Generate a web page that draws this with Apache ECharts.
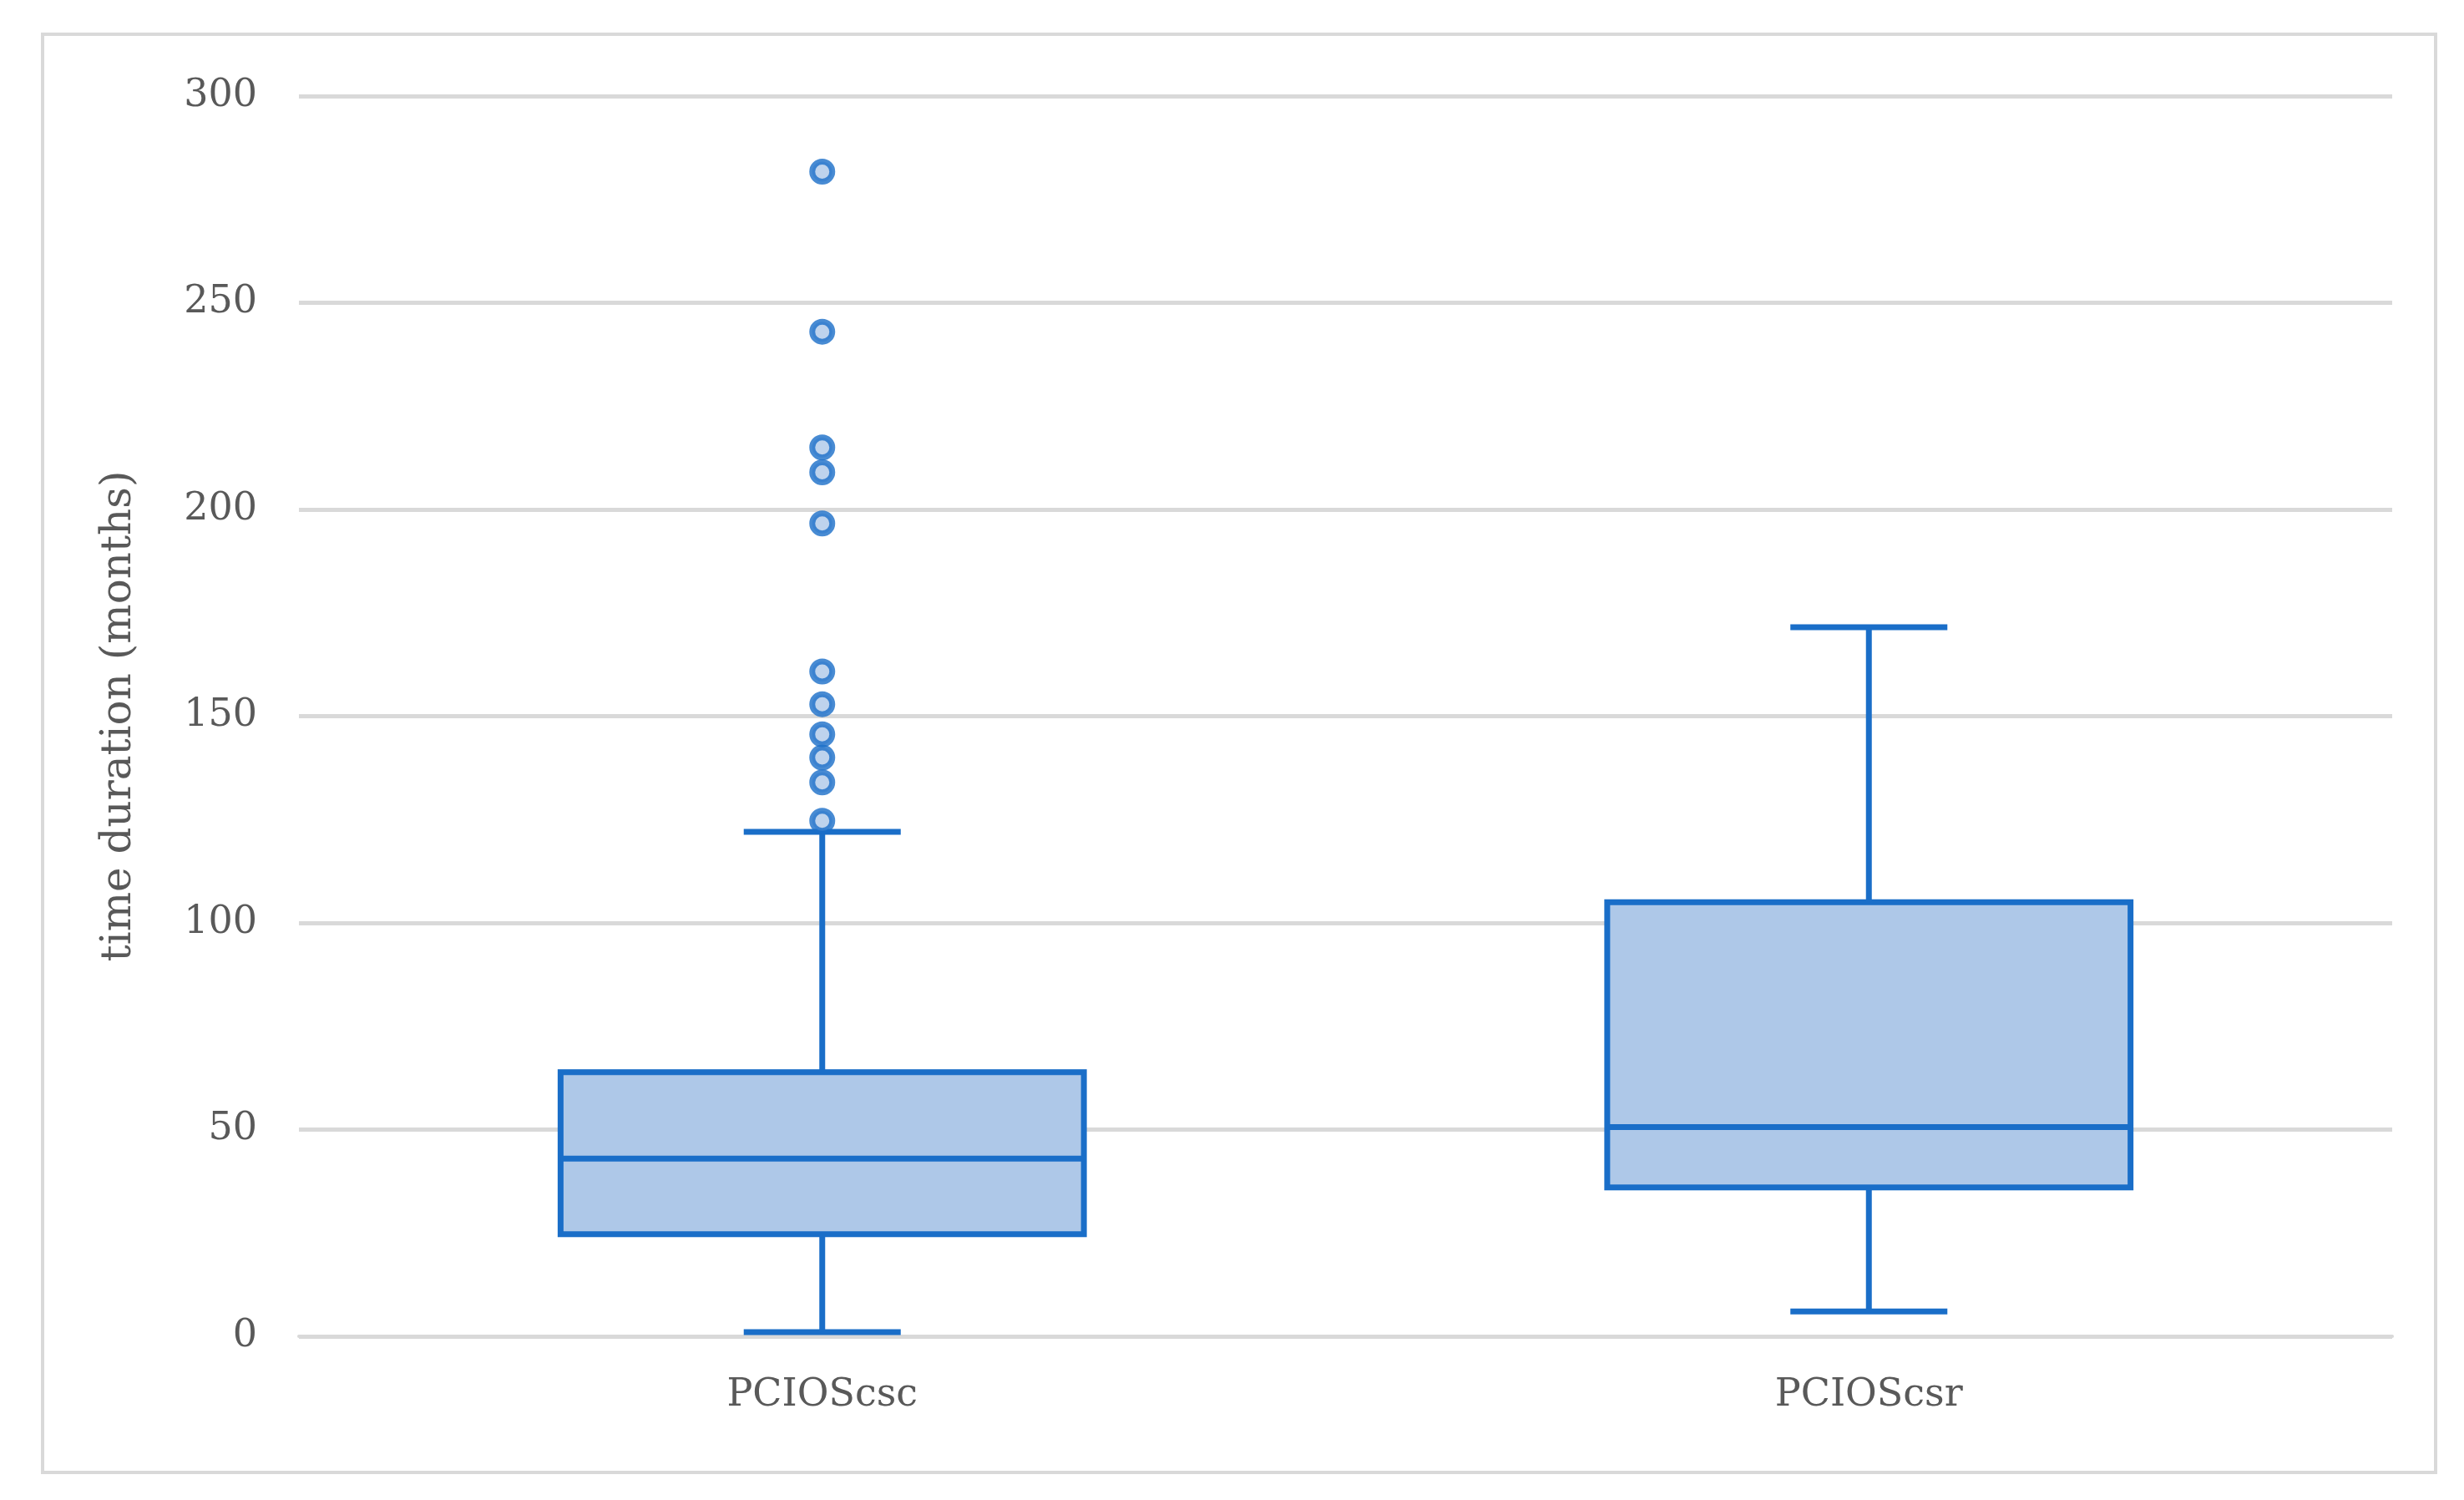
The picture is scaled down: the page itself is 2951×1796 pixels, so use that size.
<!DOCTYPE html>
<html><head><meta charset="utf-8">
<script src="https://cdn.jsdelivr.net/npm/echarts@6/dist/echarts.min.js"></script>
<style>html,body{margin:0;padding:0;background:#fff}#c{width:2951px;height:1796px}</style>
</head><body><div id="c"></div>
<script>
const categories = ['PCIOScsc', 'PCIOScsr'];
// [min, Q1, median, Q3, max]
const boxValues = [
  [1, 24.7, 43, 63.9, 122],
  [6, 36, 50.6, 105, 171.5]
];
const outlierValues = [
  [0, 281.7], [0, 243], [0, 215], [0, 209], [0, 196.6], [0, 160.8],
  [0, 152.9], [0, 145.6], [0, 140], [0, 134], [0, 124.7]
];
const yTicks = [0, 50, 100, 150, 200, 250, 300];

const blue = '#1a6ec8', fill = '#aec8e8';
const chart = echarts.init(document.getElementById('c'));
chart.setOption({
  backgroundColor: '#fff',
  graphic: [{type: 'rect', shape: {x: 51, y: 41, width: 2866, height: 1722},
    style: {fill: 'none', stroke: '#d9d9d9', lineWidth: 4}}],
  grid: {left: 358, right: 86, top: 115, bottom: 196},
  xAxis: {type: 'category', data: categories,
    axisLine: {lineStyle: {color: '#d9d9d9', width: 4}}, axisTick: {show: false},
    axisLabel: {color: '#595959', fontFamily: 'DejaVu Serif', fontSize: 46, margin: 48}},
  yAxis: {type: 'value', min: 0, max: 300, interval: 50,
    name: 'time duration (months)', nameLocation: 'middle', nameGap: 190, nameRotate: 90,
    nameTextStyle: {color: '#595959', fontFamily: 'DejaVu Serif', fontSize: 50},
    axisLine: {show: false}, axisTick: {show: false},
    splitLine: {lineStyle: {color: '#d9d9d9', width: 5}},
    axisLabel: {color: '#595959', fontFamily: 'DejaVu Serif', fontSize: 46, margin: 50,
      formatter: v => yTicks.includes(v) ? String(v) : ''}},
  series: [{
    type: 'custom',
    data: boxValues.map((b, i) => [i, ...b]),
    renderItem: function (params, api) {
      const x = api.value(0);
      const w = api.size([1, 0])[0];
      const bw = w * 0.5, cw = w * 0.15;
      const p = k => api.coord([x, api.value(k)]);
      const mn = p(1), q1 = p(2), md = p(3), q3 = p(4), mx = p(5);
      const cx = mn[0];
      const st = {stroke: blue, lineWidth: 7, fill: 'none'};
      return {type: 'group', children: [
        {type: 'line', shape: {x1: cx, y1: q3[1], x2: cx, y2: mx[1]}, style: st},
        {type: 'line', shape: {x1: cx, y1: q1[1], x2: cx, y2: mn[1]}, style: st},
        {type: 'line', shape: {x1: cx - cw/2, y1: mx[1], x2: cx + cw/2, y2: mx[1]}, style: st},
        {type: 'line', shape: {x1: cx - cw/2, y1: mn[1], x2: cx + cw/2, y2: mn[1]}, style: st},
        {type: 'rect', shape: {x: cx - bw/2, y: q3[1], width: bw, height: q1[1] - q3[1]},
          style: {stroke: blue, lineWidth: 7, fill: fill}},
        {type: 'line', shape: {x1: cx - bw/2, y1: md[1], x2: cx + bw/2, y2: md[1]}, style: st}
      ]};
    }
  }, {
    type: 'scatter', data: outlierValues, symbolSize: 24,
    itemStyle: {color: fill, borderColor: blue, borderWidth: 7}
  }]
});
</script></body></html>
